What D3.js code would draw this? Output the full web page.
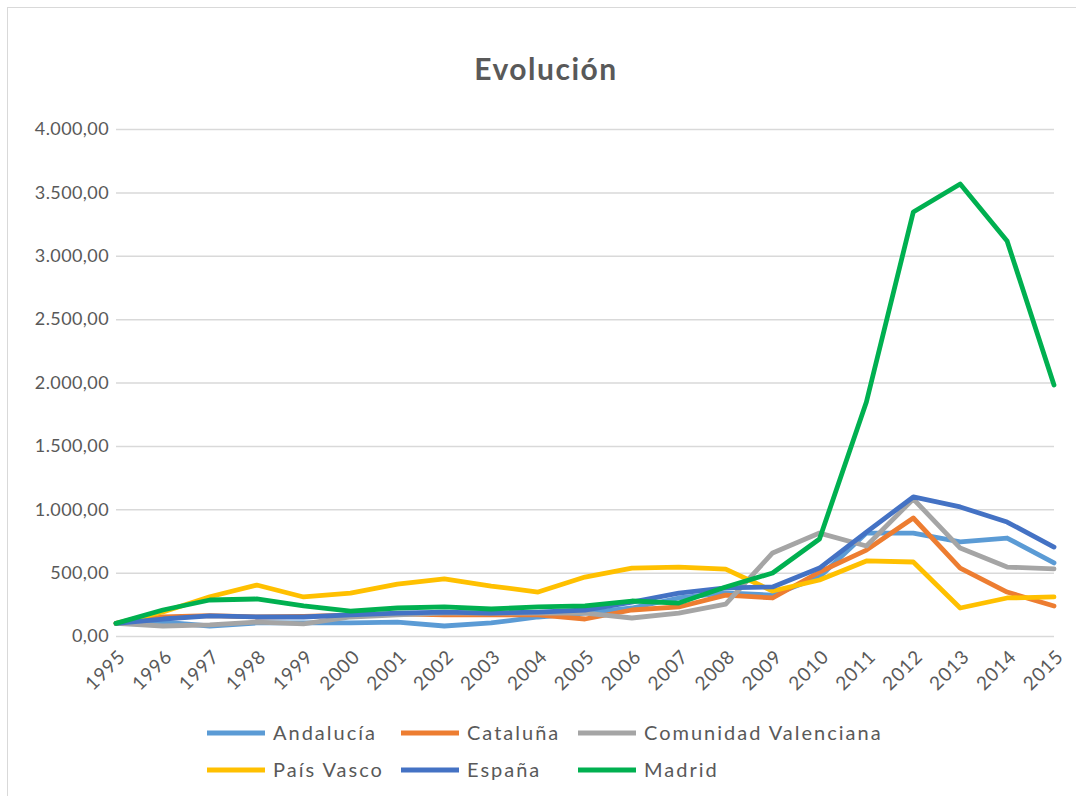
<!DOCTYPE html>
<html>
<head>
<meta charset="utf-8">
<script src="https://cdn.jsdelivr.net/npm/d3@7"></script>
<style>
  body { margin: 0; background: #fff; }
  svg text { font-family: Lato, "Open Sans", sans-serif; fill: #595959; }
</style>
</head>
<body>
<script>
// Data
const years = [1995, 1996, 1997, 1998, 1999, 2000, 2001, 2002, 2003, 2004, 2005,
  2006, 2007, 2008, 2009, 2010, 2011, 2012, 2013, 2014, 2015];

const andalucia = [100, 110, 79, 103, 103, 103, 110, 79, 103, 150, 181,
  221, 300, 340, 323, 465, 812, 812, 742, 773, 576];
const cataluna = [100, 150, 160, 150, 155, 165, 175, 166, 166, 166, 134,
  205, 229, 323, 300, 505, 678, 931, 536, 347, 237];
const valenciana = [100, 79, 87, 110, 95, 150, 166, 180, 180, 181, 181,
  142, 181, 252, 655, 812, 710, 1081, 694, 544, 529];
const paisVasco = [100, 190, 310, 402, 308, 339, 410, 450, 394, 347, 465,
  536, 544, 528, 355, 442, 592, 584, 221, 300, 308];
const espana = [100, 134, 158, 150, 150, 166, 181, 189, 181, 189, 205,
  268, 339, 379, 387, 536, 820, 1097, 1018, 899, 702];
const madrid = [100, 205, 284, 292, 237, 197, 221, 229, 213, 229, 237,
  276, 260, 387, 497, 765, 1846, 3345, 3566, 3116, 1980];

const seriesNames = ["Andalucía", "Cataluña", "Comunidad Valenciana", "País Vasco", "España", "Madrid"];
const seriesValues = [andalucia, cataluna, valenciana, paisVasco, espana, madrid];
const seriesColors = ["#5B9BD5", "#ED7D31", "#A5A5A5", "#FFC000", "#4472C4", "#00B050"];
const yTicks = [0, 500, 1000, 1500, 2000, 2500, 3000, 3500, 4000];

const W = 1076, H = 796;
const plotLeft = 116, plotRight = 1054, plotTop = 129, plotBottom = 636;

const svg = d3.select("body").append("svg")
  .attr("width", W)
  .attr("height", H);

// chart border
svg.append("rect")
  .attr("x", 7.5).attr("y", 7.5)
  .attr("width", W).attr("height", H)
  .attr("fill", "#fff")
  .attr("stroke", "#d9d9d9")
  .attr("stroke-width", 1);

// title
svg.append("text")
  .attr("x", 546).attr("y", 80)
  .attr("text-anchor", "middle")
  .style("font-size", "30px")
  .style("font-weight", "bold")
  .style("letter-spacing", "1.5px")
  .text("Evolución");

const x = d3.scalePoint().domain(years).range([plotLeft, plotRight]);
const y = d3.scaleLinear().domain([0, 4000]).range([plotBottom, plotTop]);

const es = d3.formatLocale({ decimal: ",", thousands: ".", grouping: [3], currency: ["", "€"] });
const fmt = es.format(",.2f");

// y gridlines + labels
const yAxis = d3.axisLeft(y)
  .tickValues(yTicks)
  .tickSize(-(plotRight - plotLeft))
  .tickPadding(7)
  .tickFormat(fmt);

svg.append("g")
  .attr("transform", "translate(" + plotLeft + ",0)")
  .call(yAxis)
  .call((g) => g.select(".domain").remove())
  .call((g) => g.selectAll("line").attr("stroke", "#d9d9d9").attr("stroke-width", 1.5))
  .call((g) => g.selectAll("text")
    .style("font-size", "18px")
    .style("letter-spacing", "0.4px")
    .attr("fill", "#595959"));

// x labels, rotated
const xAxis = d3.axisBottom(x).tickSize(0).tickPadding(0);
svg.append("g")
  .attr("transform", "translate(0," + plotBottom + ")")
  .call(xAxis)
  .call((g) => g.select(".domain").remove())
  .call((g) => g.selectAll("text")
    .style("font-size", "19px")
    .style("letter-spacing", "0.8px")
    .attr("fill", "#595959")
    .attr("text-anchor", "end")
    .attr("dy", null)
    .attr("y", 0)
    .attr("transform", "translate(10,22) rotate(-45)"));

// lines
const line = d3.line()
  .x((d, i) => x(years[i]))
  .y((d) => y(d));

svg.append("g")
  .selectAll("path")
  .data(seriesValues)
  .enter()
  .append("path")
  .attr("d", line)
  .attr("fill", "none")
  .attr("stroke", (d, i) => seriesColors[i])
  .attr("stroke-width", 4.8)
  .attr("stroke-linejoin", "round")
  .attr("stroke-linecap", "round");

// legend
const legendX = [207, 401, 578];
const legendY = [733, 770];
const legend = svg.append("g")
  .selectAll("g")
  .data(seriesNames)
  .enter()
  .append("g")
  .attr("transform", (d, i) => "translate(" + legendX[i % 3] + "," + legendY[Math.floor(i / 3)] + ")");

legend.append("line")
  .attr("x1", 0).attr("x2", 58)
  .attr("stroke", (d, i) => seriesColors[i])
  .attr("stroke-width", 5);

legend.append("text")
  .attr("x", 66)
  .attr("dy", "0.35em")
  .style("font-size", "20px")
  .style("letter-spacing", "2px")
  .attr("fill", "#262626")
  .text((d) => d);
</script>
</body>
</html>
